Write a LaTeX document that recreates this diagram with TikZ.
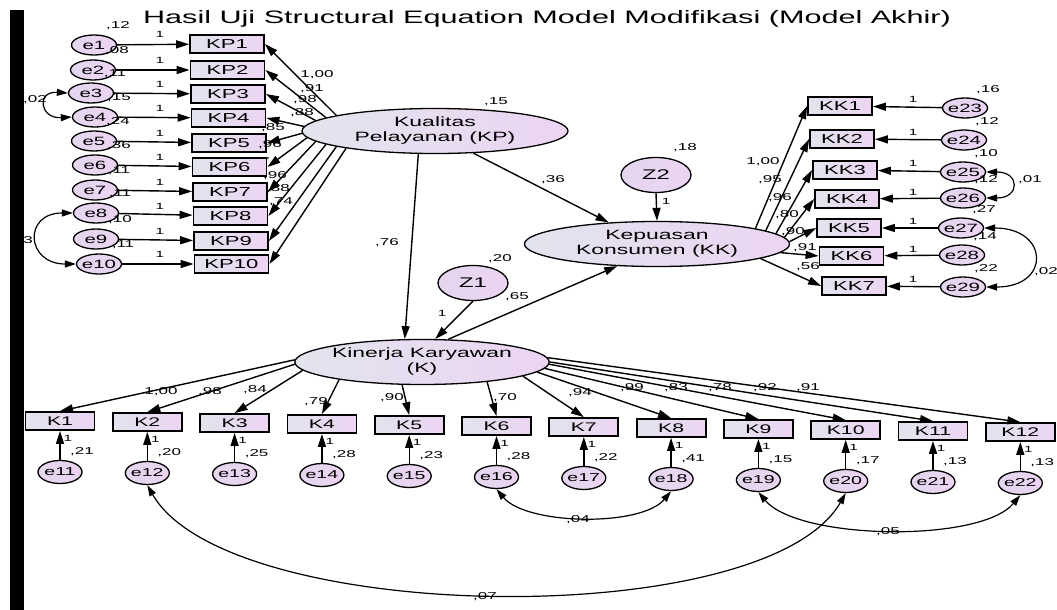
\documentclass[tikz,border=0pt]{standalone}
\usepackage{fontspec}
\setmainfont{Liberation Sans}[FakeStretch=1.7]
\usetikzlibrary{shapes.geometric,arrows.meta,calc}
\definecolor{amosgrey}{RGB}{226,228,238}
\definecolor{amospink}{RGB}{236,212,242}
\definecolor{amoslilac}{RGB}{228,214,238}

\begin{document}
\begin{tikzpicture}[
        x=1pt, y=-1pt,
        >={Triangle[length=13pt,width=8pt]},
        latent/.style={ellipse, draw, line width=1.3pt, left color=amosgrey, right color=amospink,
            minimum width=#1, minimum height=45pt, inner sep=0pt, align=center,
            font=\fontsize{13.5}{15}\selectfont},
        obs/.style={rectangle, draw, line width=1.8pt, left color=amosgrey, right color=amospink,
            minimum width=#1, minimum height=18pt, inner sep=0pt, font=\fontsize{13}{13}\selectfont},
        err/.style={ellipse, draw, line width=1.3pt, left color=amoslilac, right color=amospink,
            minimum width=45pt, minimum height=20pt, inner xsep=-1.5pt, inner ysep=0pt,
            font=\fontsize{12}{12}\selectfont},
        dist/.style={ellipse, draw, line width=1.3pt, left color=amoslilac, right color=amospink,
            minimum width=70pt, minimum height=35pt, inner sep=0pt, font=\fontsize{14}{14}\selectfont},
        num/.style={inner sep=0pt, font=\fontsize{10}{10}\selectfont},
        one/.style={inner sep=0pt, font=\fontsize{9}{9}\selectfont},
        reg/.style={->, line width=1.4pt},
        covar/.style={<->, line width=1.2pt, >={Triangle[length=11pt,width=7pt]}}
    ]
    \useasboundingbox (0,0) rectangle (1057,610);
    \fill[white] (0,0) rectangle (1057,610);

    \node[font=\fontsize{18}{18}\selectfont] (title) at (547,19) {Hasil Uji Structural Equation Model Modifikasi (Model Akhir)};

    % latent variables
    \node[latent=266pt] (KP) at (435,131) {Kualitas\\Pelayanan (KP)};
    \node[latent=265pt] (KK) at (657,244) {Kepuasan\\Konsumen (KK)};
    \node[latent=250pt] (K) at (422,362) {Kinerja Karyawan\\(K)};
    \node[dist] (Z1) at (473,283) {Z1};
    \node[dist] (Z2) at (656,175) {Z2};
    \node[num] at (496,102) {,15};
    \node[num] at (500,259) {,20};
    \node[num] at (685,148) {,18};

    % structural paths
    \draw[reg] (KP.234) -- (K.127);
    \draw[reg] (KP.330) -- (KK.156);
    \draw[reg] (K.41) -- (KK.209);
    \draw[reg] (Z1.south) -- (K.60);
    \draw[reg] (Z2.south) -- (KK.north);
    \node[num] at (387,243) {,76};
    \node[num] at (553,180) {,36};
    \node[num] at (517,297) {,65};
    \node[one] at (442,313) {1};
    \node[one] at (666,201) {1};

    % Kualitas Pelayanan indicators
    \foreach \i/\bx/\by/\ex/\ey/\v/\a in {
        1/227/44/94/45/{,12}/171, 2/227.5/70/93/70/{,08}/173, 3/228/94/91/93/{,11}/175,
        4/228.5/118/95/117/{,15}/178, 5/229/143/94/141/{,24}/181, 6/229.5/167/95/165/{,36}/183.5,
        7/230/192/95/190/{,11}/185.5, 8/230.5/216/96/213/{,11}/187.5, 9/231/241/96/239/{,10}/189.5,
        10/231.5/264/99/264/{,11}/191.5}{
        \node[obs=74pt] (KP\i) at (\bx,\by) {KP\i};
        \node[err] (e\i) at (\ex,\ey) {e\i};
        \node[num] at (\ex+24,\ey-19) {\v};
        \draw[reg] (e\i) -- (KP\i);
        \node[one] at (160,\by-10) {1};
        \draw[reg] (KP.\a) -- (KP\i.east);
    }
    \foreach \x/\y/\t in {317/75/{1,00}, 312/89/{,91}, 305/100/{,98}, 302/113/{,88}, 273/128/{,85},
        270/145/{,96}, 268/161/{'}, 275/176/{,96}, 278/189/{,88}, 281/202/{,74}}
        \node[num] at (\x,\y) {\t};

    % Kepuasan Konsumen indicators
    \foreach \i/\bx/\by/\ex/\ey/\v/\a in {
        1/840/106/965/108/{,16}/9, 2/842/139/964/140/{,12}/7, 3/845/170/963/172/{,10}/5,
        4/847/199/963/198/{,12}/3.5, 5/849/228/961/228/{,27}/1.5, 6/851.5/256/962/255/{,14}/356,
        7/854/286/963/287/{,22}/352}{
        \pgfmathtruncatemacro\en{\i+22}
        \node[obs=64pt] (KK\i) at (\bx,\by) {KK\i};
        \node[err] (e\en) at (\ex,\ey) {e\en};
        \node[num] at (\ex+23,\ey-18) {\v};
        \draw[reg] (e\en) -- (KK\i);
        \node[one] at (913,\by-7) {1};
        \draw[reg] (KK.\a) -- (KK\i.west);
    }
    \foreach \x/\y/\t in {763/162/{1,00}, 770/180/{,95}, 780/198/{,96}, 787/215/{,80},
        793/232/{,90}, 805/248/{,91}, 808/267/{,56}}
        \node[num] at (\x,\y) {\t};

    % Kinerja Karyawan indicators
    \foreach \i/\v/\a in {1/{,21}/179, 2/{,20}/181.5, 3/{,25}/184.5, 4/{,28}/192, 5/{,23}/229.5,
        6/{,28}/343, 7/{,22}/352.5, 8/{,41}/355.5, 9/{,15}/357.5, 10/{,17}/359, 11/{,13}/0.5, 12/{,13}/2}{
        \pgfmathsetmacro\bx{60+87.3*(\i-1)}
        \pgfmathsetmacro\by{421+(\i-1)}
        \pgfmathsetmacro\ey{472+(\i-1)}
        \pgfmathtruncatemacro\en{\i+10}
        \node[obs=69pt, font=\fontsize{12.5}{12.5}\selectfont] (K\i) at (\bx,\by) {K\i};
        \node[err, minimum width=44pt, minimum height=23pt, font=\fontsize{11.5}{11.5}\selectfont]
            (e\en) at (\bx,\ey) {e\en};
        \node[num] at (\bx+22,\ey-20) {\v};
        \draw[reg] (e\en) -- (K\i);
        \node[one] at (\bx+8,\by+17) {1};
        \draw[reg] (K.\a) -- (K\i.north);
    }
    \foreach \x/\y/\t in {161/392/{1,00}, 210/392/{,98}, 255/390/{,84}, 316/402/{,79}, 392/398/{,90},
        505/398/{,70}, 580/393/{,94}, 632/388/{,99}, 676/388/{,83}, 720/388/{,78}, 765/388/{,92}, 808/388/{,91}}
        \node[num] at (\x,\y) {\t};

    % covariances
    \draw[covar] (e3.west) .. controls +(-32,-2) and +(-32,2) .. (e4.west);
    \draw[covar] (e8.west) .. controls +(-50,0) and +(-50,0) .. (e10.west);
    \draw[covar] (e25.east) .. controls +(34,0) and +(34,0) .. (e26.east);
    \draw[covar] (e27.east) .. controls +(65,0) and +(65,0) .. (e29.east);
    \draw[covar] (e12.south) .. controls +(80,140) and +(-80,140) .. (e20.south);
    \draw[covar] (e16.south) .. controls +(30,36) and +(-30,36) .. (e18.south);
    \draw[covar] (e19.south) .. controls +(40,48) and +(-40,48) .. (e22.south);
    \node[num] at (35,100) {,02};
    \node[num] at (28,240) {3};
    \node[num] at (1030,180) {,01};
    \node[num] at (1046,272) {,02};
    \node[num] at (485,597) {,07};
    \node[num] at (578,520) {,04};
    \node[num] at (888,532) {,05};

    % frame bar
    \fill[black] (10,10) rectangle (24,610);
\end{tikzpicture}
\end{document}
